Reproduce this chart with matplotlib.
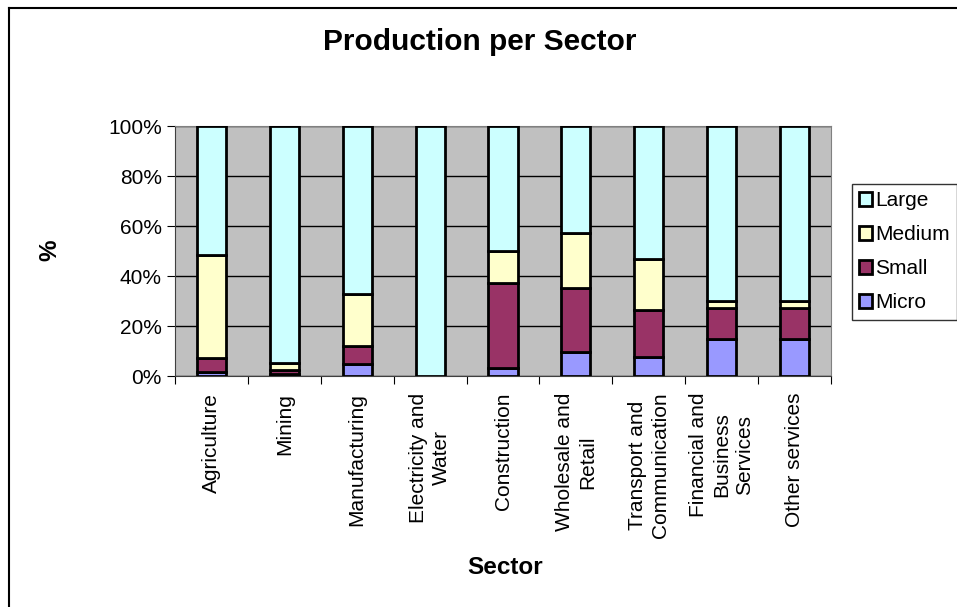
import numpy as np
import matplotlib.pyplot as plt
from matplotlib.lines import Line2D

plt.rcParams['font.family'] = ['Liberation Sans', 'DejaVu Sans']

sectors = ["Agriculture", "Mining", "Manufacturing", "Electricity and\nWater",
           "Construction", "Wholesale and\nRetail", "Transport and\nCommunication",
           "Financial and\nBusiness\nServices", "Other services"]
micro = [1.7, 0.8, 4.8, 0.0, 3.2, 9.5, 7.5, 14.7, 14.7]
small = [5.7, 1.8, 7.3, 0.0, 34.2, 25.9, 18.9, 12.7, 12.7]
medium = [41.0, 2.6, 20.7, 0.0, 12.6, 21.8, 20.5, 2.7, 2.7]
large = [51.6, 94.8, 67.2, 100.0, 50.0, 42.8, 53.1, 69.9, 69.9]

series = [("Micro", micro, "#9999FF"), ("Small", small, "#993366"),
          ("Medium", medium, "#FFFFCC"), ("Large", large, "#CCFFFF")]

fig = plt.figure(figsize=(9.57, 6.07), dpi=100)
ax = fig.add_axes([175/957, 1-376/607, (831-175)/957, 250/607])
ax.set_facecolor("#C0C0C0")

x = np.arange(len(sectors))
bottom = np.zeros(len(sectors))
bars = {}
for name, vals, col in series:
    vals = np.array(vals)
    bars[name] = ax.bar(x, vals, 0.4, bottom=bottom, color=col,
                        edgecolor="black", linewidth=2, zorder=3)
    bottom += vals

ax.set_xlim(-0.5, len(sectors) - 0.5)
ax.set_ylim(0, 100)
ax.set_yticks(np.arange(0, 101, 20))
ax.set_yticklabels([f"{v}%" for v in range(0, 101, 20)], fontsize=15)
ax.yaxis.grid(True, color="black", linewidth=1, zorder=1)
ax.set_axisbelow(True)

ax.set_xticks(np.arange(-0.5, len(sectors), 1.0))
ax.set_xticklabels([])
ax.set_xticks(x, minor=True)
ax.set_xticklabels(sectors, minor=True, rotation=90, fontsize=15,
                   va="top", ha="center", multialignment="center",
                   linespacing=1.25)
ax.tick_params(axis="x", which="minor", length=0, pad=12)
ax.tick_params(axis="x", which="major", direction="out", length=6, color="black")
ax.tick_params(axis="y", direction="out", length=6, color="black")

for side in ["top", "right"]:
    ax.spines[side].set_color("#808080")
ax.spines["left"].set_color("#404040")
ax.spines["bottom"].set_color("#404040")

fig.text(480/957, 1-42/607, "Production per Sector", ha="center", va="center",
         fontsize=21.5, fontweight="bold")
fig.text(505/957, 1-568/607, "Sector", ha="center", va="center",
         fontsize=17.5, fontweight="bold")
fig.text(50/957, 1-250/607, "%", ha="center", va="center", rotation=90,
         fontsize=17.5, fontweight="bold")

handles = [bars["Large"], bars["Medium"], bars["Small"], bars["Micro"]]
leg = fig.legend(handles, ["Large", "Medium", "Small", "Micro"],
                 loc="upper left", bbox_to_anchor=(852/957, 1-184/607),
                 fontsize=15, frameon=True, fancybox=False, edgecolor="black",
                 handlelength=0.6, handleheight=0.6, handletextpad=0.15,
                 borderpad=0.35, labelspacing=0.72, borderaxespad=0)
leg.get_frame().set_linewidth(1)

fig.add_artist(Line2D([9/957, 9/957], [0, 1-8/607], color="black", linewidth=1.5,
                      transform=fig.transFigure))
fig.add_artist(Line2D([9/957, 1], [1-8/607, 1-8/607], color="black", linewidth=1.5,
                      transform=fig.transFigure))

fig.savefig("out.png", dpi=100)
